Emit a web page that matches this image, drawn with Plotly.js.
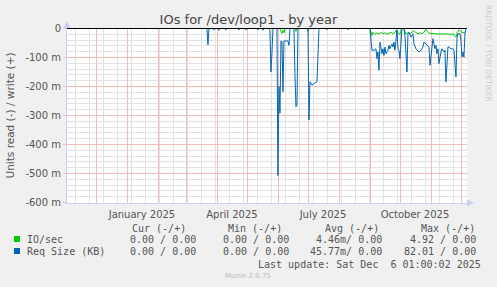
<!DOCTYPE html>
<html><head><meta charset="utf-8">
<script src="https://cdn.plot.ly/plotly-3.0.1.min.js"></script>
<style>html,body{margin:0;padding:0;background:#f0f0f0;}#chart{width:497px;height:287px;}</style>
</head><body><div id="chart"></div>
<script>
// ---- data ----
const xStart = '2024-11-01 01:00';
const xEnd = '2025-12-06 01:00';

const reqDates = [
'2025-03-15','2025-03-21','2025-03-22','2025-03-23','2025-03-27','2025-03-28','2025-03-29',
'2025-04-01','2025-04-02','2025-04-03','2025-04-08','2025-04-09','2025-04-10','2025-04-21','2025-04-22','2025-04-23',
'2025-04-28','2025-04-29','2025-04-30','2025-05-10','2025-05-11','2025-05-12','2025-05-15','2025-05-16','2025-05-17',
'2025-05-22','2025-05-23','2025-05-24','2025-05-25','2025-05-26','2025-05-30','2025-05-31',
'2025-06-01','2025-06-02','2025-06-03','2025-06-04','2025-06-05','2025-06-06','2025-06-10','2025-06-11','2025-06-12',
'2025-06-16','2025-06-17','2025-06-18','2025-06-19','2025-06-20','2025-06-30',
'2025-07-01','2025-07-02','2025-07-04','2025-07-06','2025-07-09','2025-07-11','2025-07-18','2025-07-19','2025-07-20',
'2025-08-08','2025-08-09','2025-08-10','2025-08-31',
'2025-09-02','2025-09-04','2025-09-06','2025-09-07','2025-09-08','2025-09-09','2025-09-10','2025-09-12','2025-09-13',
'2025-09-14','2025-09-15','2025-09-16','2025-09-18','2025-09-19','2025-09-20','2025-09-22','2025-09-23','2025-09-24',
'2025-09-25','2025-09-27','2025-09-28','2025-09-29','2025-09-30','2025-10-02','2025-10-04','2025-10-05','2025-10-07',
'2025-10-08','2025-10-09','2025-10-11','2025-10-13','2025-10-14','2025-10-16','2025-10-19','2025-10-21','2025-10-23',
'2025-10-24','2025-10-26','2025-10-28','2025-10-29','2025-10-30','2025-11-01','2025-11-02','2025-11-03','2025-11-04',
'2025-11-05','2025-11-06','2025-11-07','2025-11-08','2025-11-10','2025-11-11','2025-11-13','2025-11-14','2025-11-15',
'2025-11-17','2025-11-18','2025-11-20','2025-11-22','2025-11-23','2025-11-25','2025-11-26','2025-11-27','2025-11-29',
'2025-11-30','2025-12-01','2025-12-02','2025-12-03','2025-12-04','2025-12-05','2025-12-06'
];
const reqValues = [
0,0,-0.056,0,0,-0.005,0,
0,-0.006,0,0,-0.005,0,0,-0.005,0,
0,-0.005,0,0,-0.005,0,0,-0.006,0,
0,-0.007,-0.150,-0.086,0,0,-0.507,
-0.200,-0.292,-0.043,-0.045,-0.218,-0.043,-0.043,-0.058,0,
0,-0.160,-0.270,-0.265,0,0,
-0.315,-0.184,-0.195,-0.190,-0.184,0,0,-0.004,0,
0,-0.004,0,0,
-0.075,-0.075,-0.070,-0.104,-0.081,-0.144,-0.047,-0.087,-0.070,
-0.093,-0.064,-0.087,-0.075,-0.058,-0.070,-0.053,-0.064,-0.047,
-0.075,-0.007,-0.070,-0.075,-0.104,0,0,-0.024,-0.150,
-0.018,-0.013,-0.030,-0.018,-0.053,-0.070,-0.081,-0.075,-0.064,
-0.047,-0.053,-0.058,-0.064,-0.127,-0.058,-0.035,-0.053,-0.070,
-0.058,-0.087,-0.070,-0.121,-0.081,-0.070,-0.081,-0.075,-0.184,
-0.064,-0.064,-0.070,-0.070,-0.075,-0.167,-0.035,-0.018,-0.018,
-0.041,-0.098,-0.081,-0.098,-0.018,0,0
];

const ioDates = [
'2025-03-15','2025-06-02','2025-06-03','2025-06-04','2025-06-05','2025-06-06','2025-06-07','2025-06-17','2025-06-18','2025-06-19',
'2025-06-29','2025-06-30','2025-07-01','2025-08-31',
'2025-09-02','2025-09-03','2025-09-05','2025-09-07','2025-09-09','2025-09-11','2025-09-13','2025-09-15','2025-09-17','2025-09-19',
'2025-09-21','2025-09-23','2025-09-25','2025-09-27','2025-09-28','2025-09-30','2025-10-02','2025-10-04','2025-10-06','2025-10-08',
'2025-10-10','2025-10-12','2025-10-14','2025-10-16','2025-10-18','2025-10-20','2025-10-22','2025-10-24','2025-10-26','2025-10-28',
'2025-10-30','2025-11-01','2025-11-03','2025-11-05','2025-11-07','2025-11-09','2025-11-11','2025-11-13','2025-11-15','2025-11-17',
'2025-11-19','2025-11-21','2025-11-23','2025-11-25','2025-11-26','2025-11-28','2025-11-30','2025-12-02','2025-12-04','2025-12-05'
];
const ioValues = [
0,0,-0.010,-0.017,-0.006,-0.015,0,0,-0.010,0,
0,-0.010,0,0,
-0.024,-0.013,-0.020,-0.015,-0.020,-0.013,-0.018,-0.015,-0.020,-0.015,
-0.013,-0.018,-0.013,-0.003,-0.018,-0.020,0,0,-0.020,-0.013,
-0.018,-0.013,-0.007,-0.015,-0.018,-0.015,-0.018,-0.013,-0.003,-0.013,
-0.017,-0.017,-0.018,-0.017,-0.019,-0.018,-0.020,-0.018,-0.019,-0.018,
-0.020,-0.019,-0.020,-0.030,-0.015,-0.005,-0.010,-0.015,-0.013,-0.010
];

const monthStarts = ['2024-12-01','2025-01-01','2025-02-01','2025-03-01','2025-04-01','2025-05-01','2025-06-01',
  '2025-07-01','2025-08-01','2025-09-01','2025-10-01','2025-11-01','2025-12-01'];
const monthLabels = ['','January 2025','','','April 2025','','','July 2025','','','October 2025','',''];
const yTickVals = [0,-0.1,-0.2,-0.3,-0.4,-0.5,-0.6];
const yTickText = ['0','-100 m','-200 m','-300 m','-400 m','-500 m','-600 m'];
const yMinorVals = [-0.02,-0.04,-0.06,-0.08,-0.12,-0.14,-0.16,-0.18,-0.22,-0.24,-0.26,-0.28,-0.32,-0.34,-0.36,-0.38,
  -0.42,-0.44,-0.46,-0.48,-0.52,-0.54,-0.56,-0.58];

const seriesNames = ['IO/sec','Req Size (KB)'];
const seriesColors = ['#00cc00','#0066b3'];
const legendHeaders = ['Cur (-/+)','Min (-/+)','Avg (-/+)','Max (-/+)'];
const statsIO = ['0.00 / 0.00','0.00 / 0.00','4.46m/ 0.00','4.92 / 0.00'];
const statsReq = ['0.00 / 0.00','0.00 / 0.00','45.77m/ 0.00','82.01 / 0.00'];
const lastUpdate = 'Last update: Sat Dec  6 01:00:02 2025';
const chartTitle = 'IOs for /dev/loop1 - by year';
const yTitle = 'Units read (-) / write (+)';
const sideText = 'RRDTOOL / TOBI OETIKER';
const footer = 'Munin 2.0.75';

// ---- layout geometry ----
const W = 497, H = 287, L = 67, R = 30, T = 28, B = 84;
const PW = W - L - R, PH = H - T - B;          // 400 x 175
const px = v => (v - L) / PW;
const py = v => (H - B - v) / PH;
const halfPx = 0.5 * 0.1 / 29;                  // 100 m = 29 px, lines on pixel centres
const nb = s => s.replace(/ /g, '\u00a0');

const traces = [
  {x: ioDates, y: ioValues, type: 'scatter', mode: 'lines', name: seriesNames[0],
   line: {color: seriesColors[0], width: 1}, hoverinfo: 'skip'},
  {x: reqDates, y: reqValues, type: 'scatter', mode: 'lines', name: seriesNames[1],
   line: {color: seriesColors[1], width: 1}, hoverinfo: 'skip'}
];

const txt = {family: 'DejaVu Sans Mono', size: 10, color: '#555'};
const ann = [];
const colRightsHead = [187, 283, 380, 476];
const colRightsVal = [197, 290, 383, 477];
legendHeaders.forEach((h, i) => ann.push({text: nb(h), x: px(colRightsHead[i]), y: py(228), xanchor: 'right'}));
[statsIO, statsReq].forEach((row, r) => {
  const yy = [239, 251][r];
  ann.push({text: nb(seriesNames[r]), x: px(26), y: py(yy), xanchor: 'left'});
  row.forEach((s, i) => ann.push({text: nb(s), x: px(colRightsVal[i]), y: py(yy), xanchor: 'right'}));
});
ann.push({text: nb(lastUpdate), x: px(482), y: py(264), xanchor: 'right'});
ann.forEach(a => { a.xref = 'paper'; a.yref = 'paper'; a.yanchor = 'middle'; a.showarrow = false; a.font = txt; a.borderpad = 0; });
ann.push({text: footer, x: px(248), y: py(276), xref: 'paper', yref: 'paper', xanchor: 'center', yanchor: 'middle',
  showarrow: false, font: {family: 'DejaVu Sans', size: 7, color: '#bbbbbb'}});
ann.push({text: sideText, x: px(489), y: py(53), xref: 'paper', yref: 'paper', xanchor: 'center', yanchor: 'middle',
  textangle: 90, showarrow: false, font: {family: 'DejaVu Sans', size: 7.5, color: '#cccccc'}});

const axisCol = '#c8d0f4';
const shapes = [
  {type: 'rect', xref: 'paper', yref: 'paper', x0: px(14), x1: px(20), y0: py(236), y1: py(242), fillcolor: seriesColors[0], line: {width: 0}},
  {type: 'rect', xref: 'paper', yref: 'paper', x0: px(14), x1: px(20), y0: py(248), y1: py(254), fillcolor: seriesColors[1], line: {width: 0}},
  {type: 'line', xref: 'paper', yref: 'y', x0: 0, x1: 1, y0: 0, y1: 0, line: {color: '#000', width: 1}, layer: 'above'},
  {type: 'path', xref: 'paper', yref: 'paper', path: `M${px(63.5)},${py(28)} L${px(70.5)},${py(28)} L${px(67)},${py(21)} Z`, fillcolor: axisCol, line: {width: 0}},
  {type: 'path', xref: 'paper', yref: 'paper', path: `M${px(467)},${py(199.5)} L${px(467)},${py(206.5)} L${px(474)},${py(203)} Z`, fillcolor: axisCol, line: {width: 0}}
];

const gridMajor = '#f2bcbc', gridMinor = '#e2e2e2';
const layout = {
  width: W, height: H,
  margin: {l: L, r: R, t: T, b: B, pad: 0},
  paper_bgcolor: '#f0f0f0', plot_bgcolor: '#ffffff',
  showlegend: false,
  font: {family: 'DejaVu Sans', size: 10, color: '#555'},
  title: {text: chartTitle, x: 0.5, xref: 'container', xanchor: 'center', y: 1 - 19 / H, yref: 'container', yanchor: 'middle',
    font: {family: 'DejaVu Sans', size: 13, color: '#444'}},
  xaxis: {type: 'date', range: [xStart, xEnd], tickmode: 'array', tickvals: monthStarts, ticktext: monthLabels,
    ticks: '', ticklabelshift: 14, ticklabelstandoff: 2,
    showgrid: true, gridcolor: gridMajor, gridwidth: 1,
    minor: {dtick: 14 * 86400000, tick0: '2024-11-10', showgrid: true, gridcolor: gridMinor, gridwidth: 1, ticks: ''},
    tickfont: {family: 'DejaVu Sans', size: 10, color: '#555'},
    showline: true, linecolor: axisCol, linewidth: 1, zeroline: false, fixedrange: true},
  yaxis: {range: [-0.6 - halfPx, halfPx], tickmode: 'array', tickvals: yTickVals, ticktext: yTickText,
    showgrid: true, gridcolor: gridMajor, gridwidth: 1,
    minor: {tickmode: 'array', tickvals: yMinorVals, showgrid: true, gridcolor: gridMinor, gridwidth: 1, ticks: ''},
    ticks: 'outside', ticklen: 3, tickcolor: gridMajor,
    showline: true, linecolor: axisCol, linewidth: 1, zeroline: false,
    tickfont: {family: 'DejaVu Sans', size: 10, color: '#555'},
    title: {text: yTitle, standoff: 8, font: {family: 'DejaVu Sans', size: 10.5, color: '#555'}}, fixedrange: true},
  annotations: ann,
  shapes: shapes
};

Plotly.newPlot('chart', traces, layout, {staticPlot: true, displayModeBar: false});
</script>
</body></html>
